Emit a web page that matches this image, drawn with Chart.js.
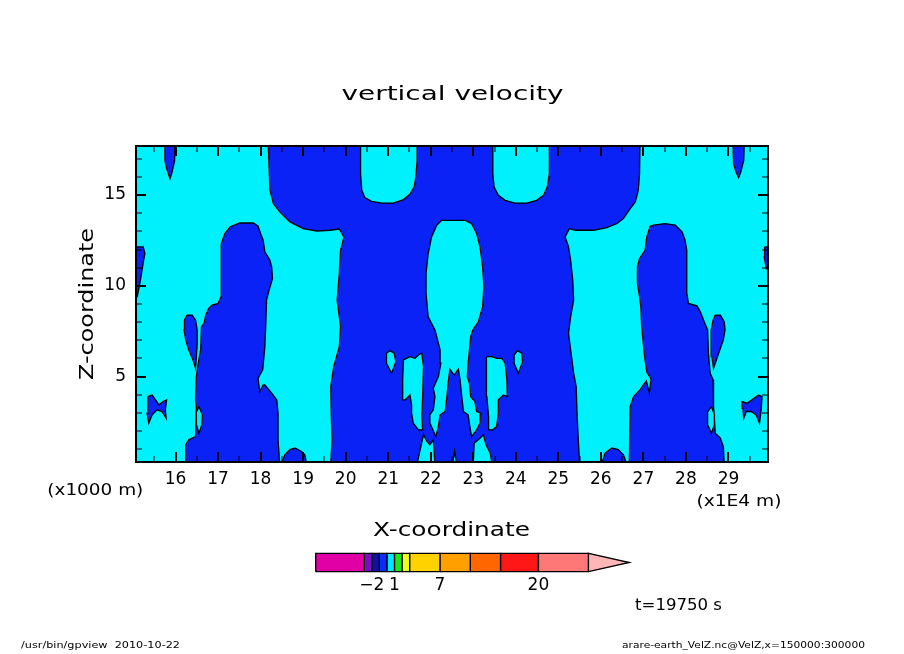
<!DOCTYPE html>
<html>
<head>
<meta charset="utf-8">
<title>vertical velocity</title>
<script src="https://cdn.jsdelivr.net/npm/chart.js@4.4.1/dist/chart.umd.min.js"></script>
<style>
  html, body { margin: 0; padding: 0; background: #fff; }
  #wrap { position: relative; width: 904px; height: 654px; }
  #wrap canvas { position: absolute; left: 0; top: 0; }
</style>
</head>
<body>
<div id="wrap">
  <canvas id="main" width="904" height="654"></canvas>
  <canvas id="bar" width="904" height="654"></canvas>
</div>
<script>
// x in 1E4 m, z in 1000 m
var xRange = [15.07, 29.93];
var zRange = [0.3, 17.7];
var xTicks = [16, 17, 18, 19, 20, 21, 22, 23, 24, 25, 26, 27, 28, 29];
var xMinor = [15.5, 16.5, 17.5, 18.5, 19.5, 20.5, 21.5, 22.5, 23.5, 24.5, 25.5, 26.5, 27.5, 28.5, 29.5];
var zTicks = [5, 10, 15];
var zMinor = [1, 2, 3, 4, 6, 7, 8, 9, 11, 12, 13, 14, 16, 17];

// regions of w < 0 (the 0 contour), [x, z]
var downCentre = [[18.18, 17.8], [20.35, 17.8], [20.35, 16.18], [20.38, 15.26], [20.45, 14.86], [20.61, 14.65],
  [20.85, 14.56], [21.12, 14.56], [21.36, 14.75], [21.51, 15.04], [21.61, 15.44], [21.65, 15.99], [21.68, 16.91],
  [21.68, 17.8], [23.46, 17.8], [23.46, 16.18], [23.49, 15.44], [23.59, 14.98], [23.75, 14.71], [23.98, 14.56],
  [24.26, 14.56], [24.49, 14.71], [24.65, 14.98], [24.74, 15.44], [24.79, 16.18], [24.79, 17.8], [26.92, 17.8],
  [26.91, 16.18], [26.88, 15.26], [26.81, 14.62], [26.69, 14.25], [26.53, 13.70], [26.38, 13.43], [26.14, 13.21],
  [25.83, 13.06], [25.59, 13.06], [25.40, 13.06], [25.26, 13.15], [25.16, 12.69], [25.24, 12.14], [25.29, 11.41],
  [25.34, 10.31], [25.36, 9.21], [25.29, 8.30], [25.24, 7.38], [25.29, 6.47], [25.36, 5.19], [25.42, 4.45],
  [25.44, 2.99], [25.47, 1.52], [25.50, 0.2], [19.65, 0.2], [19.68, 1.52], [19.66, 2.99], [19.65, 4.45],
  [19.72, 5.55], [19.85, 6.65], [19.88, 7.75], [19.80, 9.21], [19.85, 10.68], [19.88, 11.96], [19.96, 12.69],
  [19.85, 13.13], [19.63, 13.06], [19.32, 13.02], [19.00, 13.15], [18.69, 13.52], [18.45, 14.07], [18.30, 14.53],
  [18.22, 15.26]];
var downLeft = [[16.24, 0.2], [16.24, 1.25], [16.31, 1.52], [16.47, 1.70], [16.49, 3.35], [16.47, 3.72],
  [16.49, 5.0], [16.52, 5.55], [16.59, 6.47], [16.61, 7.75], [16.67, 7.93], [16.71, 8.39], [16.78, 8.76],
  [16.86, 8.94], [17.00, 9.03], [17.07, 9.40], [17.07, 11.69], [17.08, 12.33], [17.16, 12.88], [17.28, 13.24],
  [17.51, 13.46], [17.83, 13.46], [17.94, 13.28], [18.00, 12.88], [18.06, 12.51], [18.10, 11.87], [18.22, 11.41],
  [18.26, 11.04], [18.28, 10.41], [18.20, 9.76], [18.14, 9.21], [18.12, 7.75], [18.10, 6.65], [18.05, 5.37],
  [17.94, 4.91], [17.98, 4.18], [18.06, 4.54], [18.10, 4.54], [18.26, 4.09], [18.38, 3.72], [18.41, 2.99],
  [18.41, 1.52], [18.45, 0.2]];
var downRight = [[26.67, 0.2], [26.69, 3.35], [26.77, 3.90], [26.92, 4.27], [27.00, 4.54], [27.07, 4.76],
  [27.14, 4.10], [27.18, 4.87], [27.08, 5.26], [27.04, 5.92], [27.02, 6.29], [26.96, 7.75], [26.94, 8.85],
  [26.91, 9.40], [26.86, 10.13], [26.86, 11.04], [26.91, 11.51], [27.04, 11.96], [27.08, 12.69], [27.16, 13.28],
  [27.24, 13.34], [27.51, 13.43], [27.75, 13.34], [27.91, 12.97], [27.98, 12.51], [28.02, 11.96], [28.02, 9.58],
  [28.06, 9.03], [28.26, 8.90], [28.34, 8.57], [28.43, 8.02], [28.51, 7.57], [28.53, 6.29], [28.57, 5.19],
  [28.64, 4.82], [28.65, 3.35], [28.69, 1.89], [28.81, 1.62], [28.88, 1.15], [28.90, 0.2]];
var downBumpL = [[18.49, 0.2], [18.57, 0.70], [18.69, 0.98], [18.81, 1.07], [18.96, 0.88], [19.04, 0.70], [19.08, 0.2]];
var downBumpR = [[26.02, 0.2], [26.10, 0.79], [26.26, 1.07], [26.41, 0.98], [26.53, 0.70], [26.61, 0.2]];
var downDripL = [[15.75, 17.8], [15.75, 16.91], [15.79, 16.45], [15.87, 15.90], [15.91, 16.18], [15.98, 16.91], [15.98, 17.8]];
var downDripR = [[29.11, 17.8], [29.12, 16.73], [29.18, 16.26], [29.24, 15.96], [29.29, 16.26], [29.36, 16.91], [29.37, 17.8]];
var downEdgeL = [[15.0, 12.14], [15.24, 12.14], [15.28, 11.78], [15.25, 11.41], [15.20, 10.68], [15.16, 10.13],
  [15.10, 9.40], [15.0, 9.21]];
var downEdgeR = [[29.85, 12.14], [30.0, 12.14], [30.0, 10.77], [29.89, 10.96], [29.84, 11.59]];
var downDropL = [[16.27, 8.39], [16.39, 8.39], [16.47, 8.12], [16.51, 7.57], [16.51, 6.84], [16.49, 6.10],
  [16.47, 5.46], [16.41, 5.92], [16.31, 6.47], [16.24, 7.02], [16.20, 7.57], [16.21, 8.12]];
var downDropR = [[28.69, 8.39], [28.81, 8.39], [28.90, 8.02], [28.92, 7.57], [28.88, 7.02], [28.77, 6.29],
  [28.65, 5.46], [28.61, 6.10], [28.59, 7.02], [28.60, 7.57], [28.64, 8.12]];
var downWingL = [[15.35, 3.90], [15.45, 3.99], [15.53, 3.72], [15.61, 3.45], [15.71, 3.63], [15.79, 3.72],
  [15.76, 3.17], [15.78, 2.71], [15.68, 3.08], [15.57, 3.17], [15.45, 2.90], [15.37, 2.44], [15.33, 2.99]];
var downWingR = [[29.71, 3.99], [29.79, 3.90], [29.77, 3.17], [29.73, 2.44], [29.65, 2.90], [29.53, 3.08],
  [29.42, 3.08], [29.36, 2.71], [29.34, 3.26], [29.32, 3.63], [29.44, 3.54], [29.55, 3.72]];

// regions of w > 0 enclosed by the w < 0 regions
var upCore = [[22.53, 13.61], [22.81, 13.61], [22.96, 13.43], [23.08, 12.88], [23.16, 12.14], [23.22, 11.04],
  [23.25, 9.95], [23.22, 8.85], [23.12, 8.02], [22.99, 7.57], [22.94, 7.20], [22.91, 6.47], [22.88, 5.74],
  [22.86, 5.0], [22.91, 4.64], [22.94, 3.90], [23.04, 3.63], [23.08, 3.08], [23.18, 2.99], [23.16, 2.44],
  [23.08, 2.07], [22.96, 1.70], [22.92, 2.25], [22.88, 2.90], [22.77, 3.08], [22.73, 3.90], [22.69, 4.82],
  [22.65, 5.41], [22.55, 5.09], [22.45, 5.41], [22.41, 4.64], [22.38, 3.90], [22.34, 3.08], [22.22, 2.90],
  [22.18, 2.25], [22.12, 1.70], [22.05, 2.07], [21.98, 2.44], [21.98, 2.90], [22.06, 3.17], [22.10, 3.90],
  [22.06, 4.36], [22.18, 5.0], [22.24, 5.74], [22.22, 6.47], [22.14, 7.20], [22.10, 7.57], [22.06, 7.75],
  [21.94, 8.30], [21.89, 9.58], [21.89, 10.68], [21.94, 11.78], [22.02, 12.69], [22.14, 13.34], [22.26, 13.61]];
var upIsleL = [[21.36, 5.92], [21.51, 6.10], [21.63, 6.01], [21.71, 6.19], [21.79, 6.29], [21.83, 5.55],
  [21.81, 3.90], [21.79, 2.80], [21.81, 2.07], [21.71, 2.07], [21.59, 2.44], [21.55, 2.99], [21.55, 3.45],
  [21.51, 3.99], [21.40, 3.72], [21.34, 3.72], [21.34, 4.82]];
var upIsleR = [[23.32, 6.10], [23.44, 6.10], [23.55, 6.01], [23.67, 6.01], [23.75, 5.74], [23.79, 4.82],
  [23.80, 3.90], [23.71, 3.99], [23.59, 3.72], [23.59, 2.99], [23.55, 2.25], [23.46, 2.07], [23.36, 2.07],
  [23.36, 2.80], [23.32, 3.90], [23.30, 5.19]];
var upDropL = [[21.04, 6.43], [21.14, 6.29], [21.18, 5.82], [21.08, 5.19], [20.96, 5.74], [20.96, 6.29]];
var upDropR = [[24.04, 6.43], [24.14, 6.29], [24.16, 5.82], [24.06, 5.19], [23.96, 5.74], [23.96, 6.19]];
var upFootL = [[21.68, 0.2], [21.75, 0.97], [21.83, 1.80], [21.91, 1.43], [21.98, 1.25], [22.06, 1.52], [22.10, 0.2]];
var upFootR = [[23.00, 0.2], [23.02, 1.34], [23.12, 1.52], [23.24, 1.80], [23.30, 1.25], [23.40, 0.79], [23.44, 0.2]];
var upFootC = [[22.52, 0.2], [22.56, 0.88], [22.61, 0.2]];
var upOvalL = [[16.55, 3.35], [16.63, 2.90], [16.62, 2.35], [16.55, 1.89], [16.49, 2.35], [16.49, 3.06]];
var upOvalR = [[28.60, 3.35], [28.67, 2.90], [28.67, 2.35], [28.60, 1.89], [28.51, 2.35], [28.51, 3.06]];

// colour bar: level edges and labels
var cbEdges = [-9.4, -3, -2, -1, 0, 1, 2, 3, 7, 11, 15, 20, 26.6];
var cbColours = ['#e000a6', '#7a0cc2', '#0c12a2', '#0a2cff', '#00e8ff', '#18ea18', '#f0ff18',
  '#ffd200', '#ffa000', '#ff6600', '#ff1616', '#ff7878'];
var cbTip = 32.0;
var cbTipColour = '#ffb6b6';
var cbLabels = [-2, 1, 7, 20];

var DOWN = '#0a22f6';
var UP = '#00f0fc';
var FONT = '"DejaVu Sans", sans-serif';

function shape(points, colour, order, clip) {
  var pts = points.map(function (p) {
    return { x: p[0], y: p[1] };
  });
  pts.push({ x: points[0][0], y: points[0][1] });
  return {
    data: pts,
    fill: 'shape',
    backgroundColor: colour,
    borderColor: '#000',
    borderWidth: 1.3,
    pointRadius: 0,
    tension: 0,
    clip: clip,
    order: order
  };
}

var downs = [downCentre, downLeft, downRight, downBumpL, downBumpR, downDripL, downDripR,
  downEdgeL, downEdgeR, downDropL, downDropR, downWingL, downWingR];
var ups = [upCore, upIsleL, upIsleR, upDropL, upDropR, upFootL, upFootR, upFootC, upOvalL, upOvalR];

var datasets = downs.map(function (p) { return shape(p, DOWN, 2, 0); })
  .concat(ups.map(function (p) { return shape(p, UP, 1, 0); }));

// text: [text, x, baseline y, width, size, align, rotation]
var texts = [
  ['vertical velocity', 452.5, 99.5, 222, 19, 'center', 0],
  ['X-coordinate', 451.5, 535.5, 157, 20, 'center', 0],
  ['Z-coordinate', 93, 304, 152, 20, 'center', -Math.PI / 2],
  ['(x1000 m)', 95.3, 494.5, 96, 16, 'center', 0],
  ['(x1E4 m)', 739, 505.5, 85, 16, 'center', 0],
  ['t=19750 s', 678.5, 610, 87, 16, 'center', 0],
  ['/usr/bin/gpview  2010-10-22', 21, 648, 159, 9, 'left', 0],
  ['arare-earth_VelZ.nc@VelZ,x=150000:300000', 622, 648, 243, 9, 'left', 0]
];

function drawText(ctx, t) {
  ctx.save();
  ctx.font = t[4] + 'px ' + FONT;
  var w = ctx.measureText(t[0]).width;
  ctx.translate(t[1], t[2]);
  if (t[6]) ctx.rotate(t[6]);
  ctx.scale(t[3] / w, 1);
  ctx.textAlign = t[5];
  ctx.textBaseline = 'alphabetic';
  ctx.fillStyle = '#000';
  ctx.fillText(t[0], 0, 0);
  ctx.restore();
}

var framePlugin = {
  id: 'frame',
  beforeDatasetsDraw: function (chart) {
    // w > 0 everywhere outside the down regions
    var ctx = chart.ctx, a = chart.chartArea;
    ctx.save();
    ctx.fillStyle = UP;
    ctx.fillRect(a.left, a.top, a.right - a.left, a.bottom - a.top);
    ctx.restore();
  },
  afterDatasetsDraw: function (chart) {
    var ctx = chart.ctx, a = chart.chartArea;
    var xs = chart.scales.x, ys = chart.scales.y;
    ctx.save();
    ctx.strokeStyle = '#000';
    function tickX(v, len, lw) {
      var p = Math.round(xs.getPixelForValue(v));
      ctx.lineWidth = lw;
      ctx.beginPath();
      ctx.moveTo(p, a.top); ctx.lineTo(p, a.top + len);
      ctx.moveTo(p, a.bottom); ctx.lineTo(p, a.bottom - len);
      ctx.stroke();
    }
    function tickY(v, len, lw) {
      var p = Math.round(ys.getPixelForValue(v));
      ctx.lineWidth = lw;
      ctx.beginPath();
      ctx.moveTo(a.left, p); ctx.lineTo(a.left + len, p);
      ctx.moveTo(a.right, p); ctx.lineTo(a.right - len, p);
      ctx.stroke();
    }
    xMinor.forEach(function (v) { tickX(v, 6, 1); });
    zMinor.forEach(function (v) { tickY(v, 6, 1); });
    xTicks.forEach(function (v) { tickX(v, 10, 2); });
    zTicks.forEach(function (v) { tickY(v, 10, 2); });
    ctx.lineWidth = 2;
    ctx.strokeRect(a.left, a.top, a.right - a.left, a.bottom - a.top);
    ctx.restore();
  },
  afterDraw: function (chart) {
    texts.forEach(function (t) { drawText(chart.ctx, t); });
  }
};

new Chart(document.getElementById('main'), {
  type: 'line',
  data: { datasets: datasets },
  options: {
    responsive: false,
    animation: false,
    devicePixelRatio: 1,
    layout: { padding: { left: 0, right: 136, top: 146, bottom: 152 } },
    plugins: { legend: { display: false }, tooltip: { enabled: false } },
    scales: {
      x: {
        type: 'linear',
        min: xRange[0],
        max: xRange[1],
        grid: { display: false, drawTicks: false },
        border: { display: false },
        afterFit: function (s) { s.height = 40; },
        afterBuildTicks: function (s) {
          s.ticks = xTicks.map(function (v) { return { value: v }; });
        },
        ticks: { font: { family: FONT, size: 17 }, color: '#000', padding: 7, maxRotation: 0, autoSkip: false }
      },
      y: {
        type: 'linear',
        min: zRange[0],
        max: zRange[1],
        grid: { display: false, drawTicks: false },
        border: { display: false },
        afterFit: function (s) { s.width = 136; },
        afterBuildTicks: function (s) {
          s.ticks = zTicks.map(function (v) { return { value: v }; });
        },
        ticks: { font: { family: FONT, size: 17 }, color: '#000', padding: 10 }
      }
    }
  },
  plugins: [framePlugin]
});

// colour bar
var cbSets = cbColours.map(function (c, i) {
  var lo = cbEdges[i], hi = cbEdges[i + 1];
  return shape([[lo, 0], [hi, 0], [hi, 1], [lo, 1]], c, 1, false);
});
var last = cbEdges[cbEdges.length - 1];
cbSets.push(shape([[last, 0], [cbTip, 0.5], [last, 1]], cbTipColour, 1, false));

new Chart(document.getElementById('bar'), {
  type: 'line',
  data: { datasets: cbSets },
  options: {
    responsive: false,
    animation: false,
    devicePixelRatio: 1,
    layout: { padding: { left: 315.7, right: 274.7, top: 553.3, bottom: 52.3 } },
    plugins: { legend: { display: false }, tooltip: { enabled: false } },
    scales: {
      x: {
        type: 'linear',
        min: cbEdges[0],
        max: cbTip,
        grid: { display: false, drawTicks: false },
        border: { display: false },
        afterFit: function (s) { s.height = 30; },
        afterBuildTicks: function (s) {
          s.ticks = cbLabels.map(function (v) { return { value: v }; });
        },
        ticks: {
          font: { family: FONT, size: 17 }, color: '#000', padding: 4, maxRotation: 0, autoSkip: false,
          callback: function (v) { return v < 0 ? '\u2212' + Math.abs(v) : String(v); }
        }
      },
      y: { type: 'linear', min: 0, max: 1, display: false }
    }
  }
});
</script>
</body>
</html>
